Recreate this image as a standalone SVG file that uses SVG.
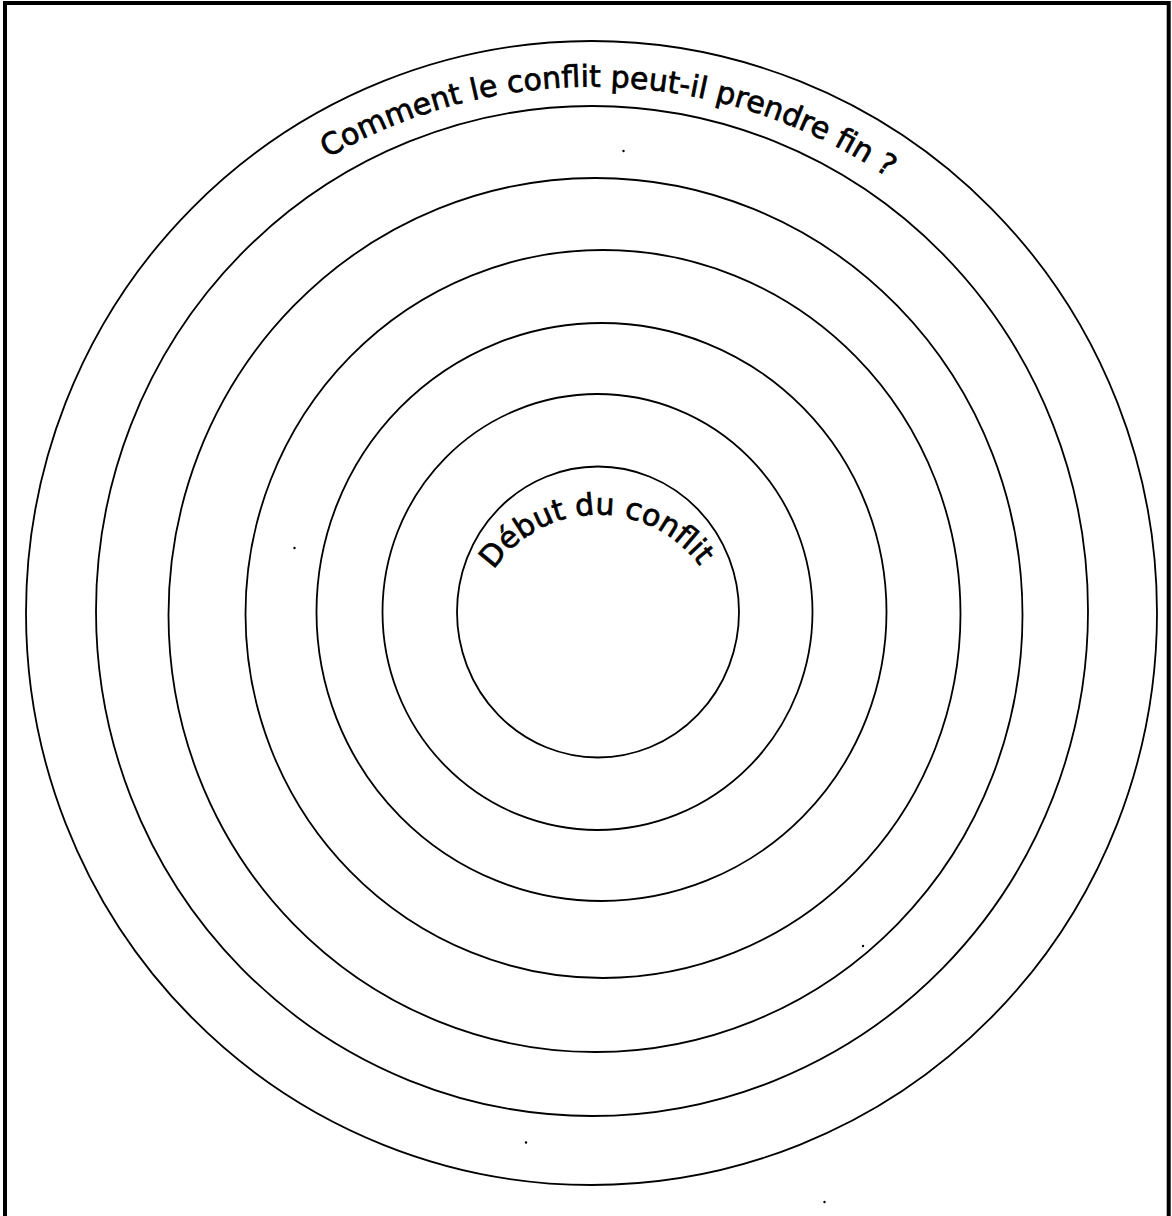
<svg xmlns="http://www.w3.org/2000/svg" width="1172" height="1216" viewBox="0 0 1172 1216">
  <style>
    .ring { fill: none; stroke: #000; stroke-width: 1.8; }
    .frame { fill: none; stroke: #000; stroke-width: 4; }
    .lbl { font-family: "DejaVu Sans", "Liberation Sans", sans-serif; fill: #000; stroke: #000; stroke-width: 0.7; }
    .dot { fill: #000; }
  </style>
  <defs>
    <path id="arcOuter" d="M 73.2 521.5 A 527 527 0 0 1 1116.1 557.9"/>
    <path id="arcInner" d="M 472 640 A 126 126 0 0 1 723.9 635.6"/>
  </defs>
  <rect x="0" y="0" width="1172" height="1216" fill="#fff"/>
  <rect class="frame" x="5" y="3" width="1163.7" height="1260"/>
  <g id="ring1"><ellipse class="ring" cx="591.5" cy="613" rx="565.5" ry="572"/></g>
  <g id="ring2"><ellipse class="ring" cx="592" cy="611" rx="496" ry="505"/></g>
  <g id="ring3"><ellipse class="ring" cx="595.5" cy="615" rx="427" ry="437"/></g>
  <g id="ring4"><ellipse class="ring" cx="603" cy="614" rx="357.5" ry="364"/></g>
  <g id="ring5"><ellipse class="ring" cx="601.5" cy="612" rx="285" ry="289"/></g>
  <g id="ring6"><ellipse class="ring" cx="597.5" cy="612" rx="215" ry="218"/></g>
  <g id="ring7"><ellipse class="ring" cx="598" cy="612" rx="141" ry="145.5"/></g>
  <g id="label-outer">
    <text class="lbl" font-size="30"><textPath href="#arcOuter" startOffset="50%" text-anchor="middle">Comment le conflit peut-il prendre fin ?</textPath></text>
  </g>
  <g id="label-inner">
    <text class="lbl" font-size="30"><textPath href="#arcInner" startOffset="50%" text-anchor="middle">Début du conflit</textPath></text>
  </g>
  <g id="specks">
    <circle class="dot" cx="623.5" cy="151" r="1.2"/>
    <circle class="dot" cx="294.5" cy="548" r="1.2"/>
    <circle class="dot" cx="863" cy="946" r="1.2"/>
    <circle class="dot" cx="526" cy="1142.5" r="1.2"/>
    <circle class="dot" cx="824.5" cy="1202" r="1.2"/>
  </g>
  <g id="connectors"></g>
</svg>
